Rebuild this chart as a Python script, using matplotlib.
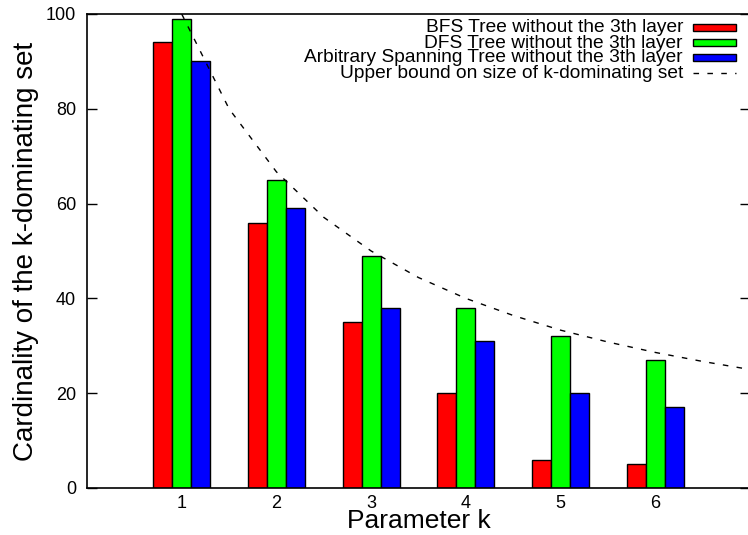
import numpy as np
import matplotlib
matplotlib.use('Agg')
import matplotlib.pyplot as plt
from matplotlib.patches import Rectangle
from matplotlib.lines import Line2D

plt.rcParams['font.family'] = ['Liberation Sans', 'DejaVu Sans']

k = [1, 2, 3, 4, 5, 6]
bfs = [94, 56, 35, 20, 6, 5]
dfs = [99, 65, 49, 38, 32, 27]
arb = [90, 59, 38, 31, 20, 17]

# upper bound curve, every half step
bound_k = [1, 1.5, 2, 2.5, 3, 3.5, 4, 4.5, 5, 5.5, 6, 6.5, 7]
bound_v = [100, 80, 66.7, 57.1, 50, 44.4, 40, 36.4, 33.3, 30.8, 28.6, 26.7, 25]

labels = ['BFS Tree without the 3th layer',
          'DFS Tree without the 3th layer',
          'Arbitrary Spanning Tree without the 3th layer',
          'Upper bound on size of k-dominating set']
colors = ['#ff0000', '#00ff00', '#0000ff']

W, H = 748, 535
fig = plt.figure(figsize=(W / 100, H / 100), dpi=100)
ax = fig.add_axes([87 / W, 1 - 488 / H, (750 - 87) / W, (488 - 14) / H])

bw = 0.2
x = np.array(k)
for i, (vals, c) in enumerate(zip([bfs, dfs, arb], colors)):
    ax.bar(x + (i - 1) * bw, vals, width=bw, color=c, edgecolor='black', linewidth=1, zorder=2)

ax.plot(bound_k, bound_v, color='black', linestyle=(0, (4, 6)), linewidth=1, zorder=3)

ax.set_xlim(0, 7)
ax.set_ylim(0, 100)
ax.set_xticks(k)
ax.set_yticks(range(0, 101, 20))
ax.tick_params(axis='y', direction='in', length=7, right=True, labelsize=13, width=1, pad=8)
ax.tick_params(axis='x', length=0, labelsize=13, pad=5)
for s in ax.spines.values():
    s.set_linewidth(1.2)

ax.set_xlabel('Parameter k', fontsize=19, labelpad=-2)
ax.set_ylabel('Cardinality of the k-dominating set', fontsize=20, labelpad=5)

# gnuplot-like key: text right aligned, sample on the right
tr = fig.transFigure
baselines = [32, 47.5, 62.5, 77.5]
for i, lab in enumerate(labels):
    yb = 1 - baselines[i] / H
    yc = 1 - (baselines[i] - 4.5) / H
    fig.text(683 / W, yb, lab, ha='right', va='baseline', fontsize=13.8)
    if i < 3:
        fig.patches.append(Rectangle((693 / W, yc - 3.5 / H), 43 / W, 7 / H, transform=tr,
                                     facecolor=colors[i], edgecolor='black', linewidth=1))
    else:
        fig.lines.append(Line2D([693 / W, 736 / W], [yc, yc], transform=tr, color='black',
                                linestyle=(0, (4, 6)), linewidth=1))

fig.savefig('out.png', dpi=100)
